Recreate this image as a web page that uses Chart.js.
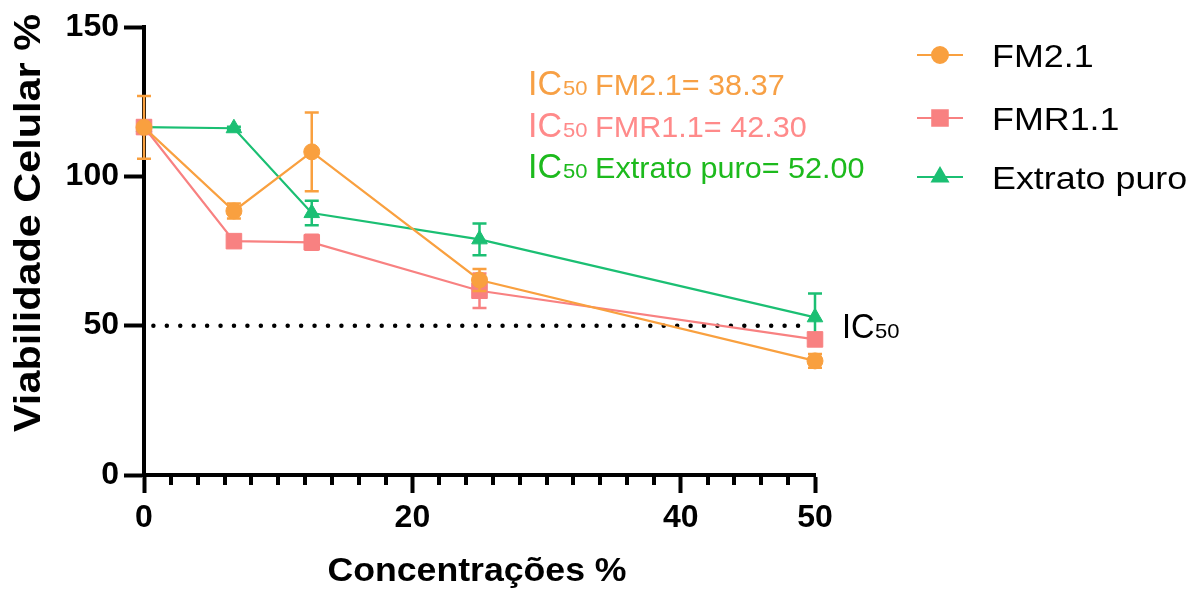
<!DOCTYPE html>
<html>
<head>
<meta charset="utf-8">
<script src="https://cdn.jsdelivr.net/npm/chart.js@4.4.1/dist/chart.umd.min.js"></script>
<style>
    body { margin: 0; background: #fff; }
    canvas { display: block; }
</style>
</head>
<body>
<canvas id="viabilityChart" width="1203" height="591"></canvas>
<script>
// data
const concentrations = [0, 6.7, 12.5, 25, 50];
const fm21 = [116.4, 88.4, 108.2, 65.3, 38.2];
const fm21Err = [10.5, 2.5, 13.2, 3.7, 2.3];
const fmr11 = [116.5, 78.3, 77.9, 61.7, 45.4];
const fmr11Err = [1.5, 1.5, 2.5, 5.8, 1.0];
const extrato = [116.5, 116.1, 87.7, 78.9, 52.8];
const extratoErr = [0.5, 0.5, 4.1, 5.3, 8.0];

const seriesNames = ["FM2.1", "FMR1.1", "Extrato puro"];
const ic50Values = ["38.37", "42.30", "52.00"];
const ic50LineX = [0.7, 49.3];
const ic50LineY = [50, 50];

const xMajorTicks = [0, 20, 40, 50];
const yTicks = [0, 50, 100, 150];

const seriesColors = ["#F9A03F", "#F88181", "#1BBF73"];
const textColors = ["#F7A045", "#FF8A8A", "#1DBA1D"];
const FONT = "'Liberation Sans', Arial, sans-serif";

const xMinorTicks = [];
for (let v = 2; v < 50; v += 2) {
    if (!xMajorTicks.includes(v)) xMinorTicks.push(v);
}

function toPoints(xs, ys) {
    return xs.map((x, i) => ({ x: x, y: ys[i] }));
}

function drawText(ctx, str, x, y, font, color, sx) {
    ctx.save();
    ctx.font = font;
    ctx.fillStyle = color;
    ctx.textBaseline = "alphabetic";
    ctx.textAlign = "left";
    ctx.translate(x, y);
    ctx.scale(sx || 1, 1);
    ctx.fillText(str, 0, 0);
    ctx.restore();
}

function series(idx, values, errors, style, radius) {
    return {
        label: seriesNames[idx],
        data: toPoints(concentrations, values),
        errors: errors,
        borderColor: seriesColors[idx],
        backgroundColor: seriesColors[idx],
        pointBackgroundColor: seriesColors[idx],
        pointBorderColor: seriesColors[idx],
        pointBorderWidth: 1,
        pointStyle: style,
        pointRadius: radius,
        borderWidth: 2.2,
        tension: 0,
        clip: false
    };
}

const errorBars = {
    id: "errorBars",
    beforeDatasetDraw(chart, args) {
        const ds = chart.data.datasets[args.index];
        if (!ds.errors) return;
        const ctx = chart.ctx;
        const xs = chart.scales.x;
        const ys = chart.scales.y;
        ctx.save();
        ctx.strokeStyle = ds.borderColor;
        ctx.lineWidth = 2.5;
        ds.data.forEach((p, i) => {
            const px = xs.getPixelForValue(p.x);
            const top = ys.getPixelForValue(p.y + ds.errors[i]);
            const bot = ys.getPixelForValue(p.y - ds.errors[i]);
            ctx.beginPath();
            ctx.moveTo(px, top);
            ctx.lineTo(px, bot);
            ctx.moveTo(px - 7, top);
            ctx.lineTo(px + 7, top);
            ctx.moveTo(px - 7, bot);
            ctx.lineTo(px + 7, bot);
            ctx.stroke();
        });
        ctx.restore();
    }
};

const extras = {
    id: "extras",
    afterDraw(chart) {
        const ctx = chart.ctx;
        const xs = chart.scales.x;
        const ys = chart.scales.y;

        // minor ticks on x
        ctx.save();
        ctx.strokeStyle = "#000";
        ctx.lineWidth = 4;
        xMinorTicks.forEach(v => {
            const px = Math.round(xs.getPixelForValue(v));
            ctx.beginPath();
            ctx.moveTo(px, xs.top);
            ctx.lineTo(px, xs.top + 10);
            ctx.stroke();
        });
        ctx.restore();

        // axis titles
        ctx.save();
        ctx.font = "bold 33px " + FONT;
        ctx.fillStyle = "#000";
        ctx.textAlign = "center";
        ctx.translate(477, 581);
        ctx.scale(1.08, 1);
        ctx.fillText("Concentrações %", 0, 0);
        ctx.restore();

        ctx.save();
        ctx.font = "bold 36px " + FONT;
        ctx.fillStyle = "#000";
        ctx.textAlign = "center";
        ctx.translate(40, 223);
        ctx.rotate(-Math.PI / 2);
        ctx.scale(1.15, 1);
        ctx.fillText("Viabilidade Celular %", 0, 0);
        ctx.restore();

        // legend
        const rows = [55, 118, 177];
        chart.data.datasets.slice(0, 3).forEach((ds, i) => {
            const y = rows[i];
            ctx.save();
            ctx.strokeStyle = ds.borderColor;
            ctx.fillStyle = ds.borderColor;
            ctx.lineWidth = 2;
            ctx.beginPath();
            ctx.moveTo(917, y);
            ctx.lineTo(963, y);
            ctx.stroke();
            Chart.helpers.drawPoint(ctx, {
                pointStyle: ds.pointStyle,
                radius: ds.pointRadius,
                rotation: 0,
                borderWidth: 1
            }, 940, y);
            ctx.restore();
            drawText(ctx, ds.label, 992, y + 12, "32px " + FONT, "#000", 1.12);
        });

        // IC50 annotations
        const base = [95, 137, 178];
        seriesNames.forEach((name, i) => {
            drawText(ctx, "IC", 528, base[i], "35px " + FONT, textColors[i], 0.97);
            drawText(ctx, "50", 563, base[i], "21px " + FONT, textColors[i], 1.05);
            drawText(ctx, name + "= " + ic50Values[i], 595, base[i], "30px " + FONT, textColors[i], 1.02);
        });

        // label of the dotted line
        const ly = ys.getPixelForValue(ic50LineY[0]) + 12;
        drawText(ctx, "IC", 842, ly, "35px " + FONT, "#000", 0.93);
        drawText(ctx, "50", 875, ly, "21px " + FONT, "#000", 1.05);
    }
};

new Chart(document.getElementById("viabilityChart"), {
    type: "line",
    data: {
        datasets: [
            series(0, fm21, fm21Err, "circle", 8),
            series(1, fmr11, fmr11Err, "rect", 11),
            series(2, extrato, extratoErr, "triangle", 9),
            {
                label: "IC50",
                data: toPoints(ic50LineX, ic50LineY),
                borderColor: "#000",
                borderWidth: 4.5,
                borderDash: [0, 13.43],
                borderCapStyle: "round",
                pointRadius: 0,
                clip: false
            }
        ]
    },
    options: {
        responsive: false,
        animation: false,
        devicePixelRatio: 1,
        layout: {
            padding: { top: 27, right: 388, left: 0, bottom: 0 }
        },
        plugins: {
            legend: { display: false },
            tooltip: { enabled: false }
        },
        scales: {
            x: {
                type: "linear",
                min: 0,
                max: 50,
                afterBuildTicks: scale => {
                    scale.ticks = xMajorTicks.map(v => ({ value: v }));
                },
                afterFit: scale => { scale.height = 116; },
                ticks: {
                    color: "#000",
                    padding: 6,
                    font: { family: FONT, size: 32, weight: "bold" }
                },
                grid: {
                    drawOnChartArea: false,
                    tickLength: 18,
                    tickWidth: 4,
                    tickColor: "#000"
                },
                border: { width: 4, color: "#000" }
            },
            y: {
                min: 0,
                max: 150,
                afterBuildTicks: scale => {
                    scale.ticks = yTicks.map(v => ({ value: v }));
                },
                afterFit: scale => { scale.width = 144; },
                ticks: {
                    color: "#000",
                    padding: 5,
                    font: { family: FONT, size: 32, weight: "bold" }
                },
                grid: {
                    drawOnChartArea: false,
                    tickLength: 20,
                    tickWidth: 4,
                    tickColor: "#000"
                },
                border: { width: 4, color: "#000" }
            }
        }
    },
    plugins: [errorBars, extras]
});
</script>
</body>
</html>
